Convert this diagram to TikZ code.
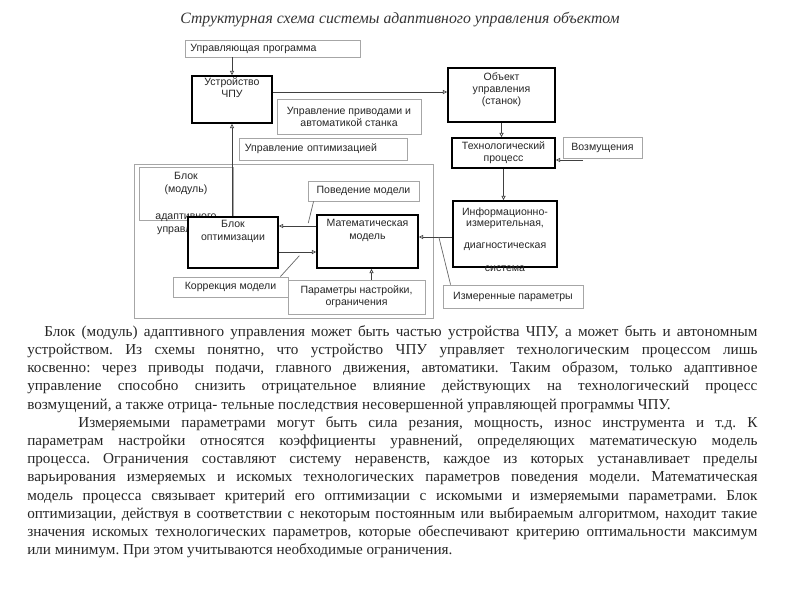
\documentclass[tikz,border=0pt]{standalone}
\usepackage{fontspec}
\setmainfont{Liberation Serif}
\setsansfont{Liberation Sans}
\usetikzlibrary{arrows.meta}

\begin{document}
\begin{tikzpicture}[x=0.025cm,y=-0.025cm,
        lbl/.style={font=\sffamily\fontsize{7.5}{8.6}\selectfont, align=center, text=black!85},
        boxstrong/.style={lbl, draw=black, line width=1.3pt, fill=white, inner sep=0pt},
        boxthin/.style={lbl, draw=gray!70, line width=0.6pt, fill=white, inner sep=0pt},
        arr/.style={draw=black!75, line width=0.5pt, -{Triangle[open,length=3pt,width=3pt]}},
        lead/.style={draw=black!60, line width=0.5pt}]
    \useasboundingbox (0,0) rectangle (800,600);
    % title
    \node[font=\itshape\fontsize{11.2}{14}\selectfont, text=black!80] (title) at (400,20) {Структурная схема системы адаптивного управления объектом};
    % upper part
    \node[boxthin, minimum width=4.375cm, minimum height=0.425cm, text width=4.1cm, align=left] (prog) at (272.5,48.5) {Управляющая программа};
    \node[boxstrong, minimum width=2cm, minimum height=1.175cm] (cnc) at (232,99.5) {Устройство\\ЧПУ\\~\\~};
    \node[boxstrong, minimum width=2.675cm, minimum height=1.35cm] (obj) at (501.5,95) {Объект\\управления\\(станок)\\~};
    \node[boxthin, minimum width=3.6cm, minimum height=0.875cm] (drv) at (349,116.5) {Управление приводами и\\автоматикой станка};
    \node[boxthin, minimum width=4.2cm, minimum height=0.55cm, text width=3.9cm, align=left] (opt) at (323,149) {Управление оптимизацией};
    \node[boxstrong, minimum width=2.575cm, minimum height=0.75cm] (tp) at (503.5,153) {Технологический\\процесс};
    \node[boxthin, minimum width=1.975cm, minimum height=0.525cm] (dist) at (602.5,147.5) {Возмущения};
    % adaptive block
    \node[draw=gray!70, line width=0.6pt, minimum width=7.475cm, minimum height=3.85cm, inner sep=0pt] (frame) at (283.5,241) {};
    \node[boxthin, minimum width=2.35cm, minimum height=1.325cm,
        label={[lbl, anchor=north, inner sep=4pt, font=\sffamily\fontsize{7.5}{9.4}\selectfont]north:Блок\\(модуль)\\~\\адаптивного\\управления}] (adm) at (186,193.5) {};
    \node[boxstrong, minimum width=2.25cm, minimum height=1.275cm] (blk) at (233,242.5) {Блок\\оптимизации\\~\\~};
    \node[boxstrong, minimum width=2.525cm, minimum height=1.325cm] (mm) at (367.5,241.5) {Математическая\\модель\\~\\~};
    \node[boxthin, minimum width=2.775cm, minimum height=0.5cm] (beh) at (363.5,191) {Поведение модели};
    \node[boxthin, minimum width=2.875cm, minimum height=0.5cm] (cor) at (230.5,287) {Коррекция модели};
    \node[boxthin, minimum width=3.425cm, minimum height=0.85cm] (par) at (356.5,297) {Параметры настройки,\\ограничения};
    % measuring part
    \node[boxstrong, fill=none, minimum width=2.6cm, minimum height=1.65cm,
        label={[lbl, anchor=north, inner sep=5pt, font=\sffamily\fontsize{7.5}{8}\selectfont]north:Информационно-\\измерительная,\\~\\диагностическая\\~\\система}] (inf) at (505,234) {};
    \node[boxthin, minimum width=3.5cm, minimum height=0.575cm] (meas) at (513,296.5) {Измеренные параметры};
    % connectors
    \draw[arr] (cnc.north |- prog.south) -- (cnc.north);
    \coordinate (o1) at ([yshift=0.075cm]obj.west);
    \draw[arr] (o1 -| cnc.east) -- (o1);
    \draw[arr] (cnc.south |- blk.north) -- (cnc.south);
    \draw[arr] (obj.south) -- (obj.south |- tp.north);
    \coordinate (d1) at (583,160);
    \draw[arr] (d1) -- (d1 -| tp.east);
    \draw[arr] (tp.south) -- (tp.south |- inf.north);
    \coordinate (i1) at ([yshift=-0.075cm]inf.west);
    \draw[arr] (i1) -- (i1 -| mm.east);
    \path (i1) -- (i1 -| mm.east) coordinate[pos=0.4] (i2);
    \draw[lead] ([xshift=0.2cm]meas.north west) -- (i2);
    \coordinate (u1) at ([yshift=0.3875cm]mm.west);
    \draw[arr] (u1) -- (u1 -| blk.east);
    \path (u1) -- (u1 -| blk.east) coordinate[pos=0.23] (u2);
    \draw[lead, shorten >=0.075cm] ([xshift=0.15cm]beh.south west) -- (u2);
    \coordinate (l1) at ([yshift=-0.2375cm]blk.east);
    \draw[arr] (l1) -- (l1 -| mm.west);
    \path (l1) -- (l1 -| mm.west) coordinate[pos=0.64] (l2);
    \draw[lead, shorten >=0.125cm] ([xshift=-0.2cm]cor.north east) -- (l2);
    \coordinate (p1) at ([xshift=0.1cm]mm.south);
    \draw[arr] (p1 |- par.north) -- (p1);
    % text below
    \node[anchor=north west, inner sep=0pt, text width=18.25cm, align=justify, text=black!85,
        font=\fontsize{10.8}{12.95}\selectfont] (body) at (27,325) {\frenchspacing\hyphenpenalty=10000 \exhyphenpenalty=10000 \tolerance=9999
        \hspace*{0.425cm}Блок (модуль) адаптивного управления может быть частью устройства ЧПУ, а может быть и автономным\linebreak
        устройством. Из схемы понятно, что устройство ЧПУ управляет технологическим процессом лишь\linebreak
        косвенно: через приводы подачи, главного движения, автоматики. Таким образом, только адаптивное\linebreak
        управление способно снизить отрицательное влияние действующих на технологический процесс\linebreak
        возмущений, а также отрица- тельные последствия несовершенной управляющей программы ЧПУ.\par
        \hspace*{1.275cm}Измеряемыми параметрами могут быть сила резания, мощность, износ инструмента и т.д. К\linebreak
        параметрам настройки относятся коэффициенты уравнений, определяющих математическую модель\linebreak
        процесса. Ограничения составляют систему неравенств, каждое из которых устанавливает пределы\linebreak
        варьирования измеряемых и искомых технологических параметров поведения модели. Математическая\linebreak
        модель процесса связывает критерий его оптимизации с искомыми и измеряемыми параметрами. Блок\linebreak
        оптимизации, действуя в соответствии с некоторым постоянным или выбираемым алгоритмом, находит такие\linebreak
        значения искомых технологических параметров, которые обеспечивают критерию оптимальности максимум\linebreak
        или минимум. При этом учитываются необходимые ограничения.};
\end{tikzpicture}
\end{document}
